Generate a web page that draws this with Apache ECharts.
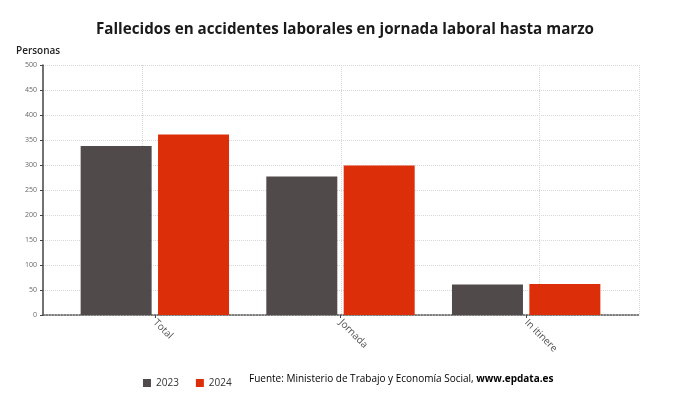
<!DOCTYPE html>
<html><head><meta charset="utf-8">
<script src="https://cdn.jsdelivr.net/npm/echarts@6/dist/echarts.min.js"></script>
<style>html,body{margin:0;padding:0;background:#fff}#c{width:690px;height:405px}</style>
</head><body><div id="c"></div>
<script>
const categories = ['Total', 'Jornada', 'In itinere'];
const values2023 = [338, 277, 61];
const values2024 = [361, 299, 62];
const yTicks = [0, 50, 100, 150, 200, 250, 300, 350, 400, 450, 500];
const seriesNames = ['2023', '2024'];

const FONT = '"Open Sans", "Noto Sans", sans-serif';
const chart = echarts.init(document.getElementById('c'), null, {renderer: 'canvas'});
const yMin = yTicks[0], yMax = yTicks[yTicks.length - 1], yStep = yTicks[1] - yTicks[0];

chart.setOption({
  animation: false,
  backgroundColor: '#ffffff',
  textStyle: {fontFamily: FONT},
  title: {
    text: 'Fallecidos en accidentes laborales en jornada laboral hasta marzo',
    left: 'center', top: 17,
    textStyle: {fontFamily: FONT, fontSize: 15.2, fontWeight: 'bold', color: '#1a1a1a'}
  },
  legend: {
    data: seriesNames,
    left: 138, top: 373,
    icon: 'rect', itemWidth: 8, itemHeight: 8, itemGap: 17,
    textStyle: {fontFamily: FONT, fontSize: 10, color: '#333'}
  },
  graphic: [
    {type: 'text', left: 16, top: 46,
     style: {text: 'Personas', font: '600 10px ' + FONT, fill: '#222'}},
    {type: 'text', left: 249, top: 374,
     style: {text: '{a|Fuente: Ministerio de Trabajo y Economía Social, }{b|www.epdata.es}',
       rich: {a: {fontFamily: FONT, fontSize: 10, color: '#333'},
              b: {fontFamily: FONT, fontSize: 10, fontWeight: 'bold', color: '#222'}}}}
  ],
  grid: [
    {left: 43, right: 51, top: 65, bottom: 90, containLabel: false},
    {left: 62, right: 71, top: 65, bottom: 90, containLabel: false}
  ],
  xAxis: [
    {type: 'category', gridIndex: 0, data: ['a', 'b', 'c', 'd', 'e', 'f'], boundaryGap: true,
     axisLine: {show: true, lineStyle: {color: '#555', type: 'dotted', width: 1.5}},
     axisTick: {show: false}, axisLabel: {show: false},
     splitLine: {show: true, interval: function (i) { return i === 1 || i === 3 || i === 5; },
       lineStyle: {color: '#d8d8d8', type: 'dotted', width: 1}}},
    {type: 'category', gridIndex: 1, data: categories,
     axisLine: {show: false},
     axisTick: {show: true, alignWithLabel: true, length: 3, lineStyle: {color: '#444'}},
     axisLabel: {rotate: -45, fontFamily: FONT, fontSize: 10, color: '#555', margin: 6},
     splitLine: {show: false}}
  ],
  yAxis: [
    {type: 'value', gridIndex: 0, min: yMin, max: yMax, interval: yStep,
     axisLine: {show: true, lineStyle: {color: '#444', width: 1.5}},
     axisTick: {show: true, length: 3, lineStyle: {color: '#444'}},
     axisLabel: {fontFamily: FONT, fontSize: 7, color: '#666', margin: 6},
     splitLine: {show: true, lineStyle: {color: '#d8d8d8', type: 'dotted'}}},
    {type: 'value', gridIndex: 1, min: yMin, max: yMax, interval: yStep, show: false,
     splitLine: {show: false}}
  ],
  series: [
    {name: seriesNames[0], type: 'bar', xAxisIndex: 1, yAxisIndex: 1, data: values2023,
     barWidth: 71, barGap: '9%', itemStyle: {color: '#504a4b'}},
    {name: seriesNames[1], type: 'bar', xAxisIndex: 1, yAxisIndex: 1, data: values2024,
     barWidth: 71, barGap: '9%', itemStyle: {color: '#dd2e0a'}}
  ]
});
</script></body></html>
